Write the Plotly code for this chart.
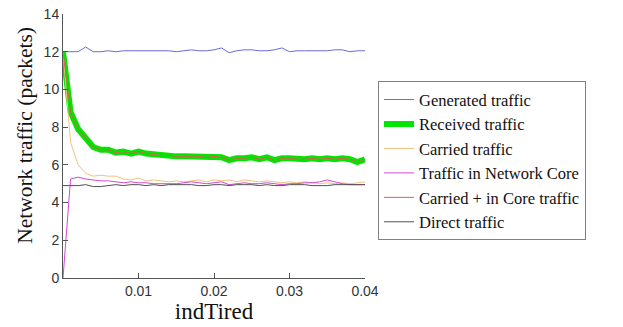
import plotly.graph_objects as go

ind_tired = [round(i * 0.001, 3) for i in range(41)]

generated = [12.0, 12.0, 12.0, 12.25, 12.0, 12.0, 12.05, 12.0, 12.05, 12.05,
             12.05, 12.05, 12.05, 12.05, 12.05, 12.0, 12.05, 12.1, 12.05, 12.05,
             12.1, 12.2, 11.95, 12.05, 12.1, 12.1, 12.05, 12.05, 12.1, 12.2,
             12.0, 12.05, 12.05, 12.05, 12.05, 12.05, 12.1, 12.1, 12.0, 12.05, 12.05]

received = [12.0, 8.8, 7.9, 7.4, 6.95, 6.8, 6.8, 6.65, 6.7, 6.6,
            6.7, 6.6, 6.55, 6.5, 6.5, 6.45, 6.45, 6.45, 6.45, 6.4,
            6.45, 6.4, 6.25, 6.35, 6.35, 6.4, 6.3, 6.4, 6.25, 6.35,
            6.35, 6.3, 6.3, 6.35, 6.3, 6.35, 6.3, 6.35, 6.3, 6.15, 6.3]

carried = [12.0, 7.2, 6.0, 5.55, 5.4, 5.45, 5.4, 5.4, 5.25, 5.2,
           5.3, 5.15, 5.2, 5.15, 5.1, 5.15, 5.1, 5.15, 5.2, 5.1,
           5.2, 5.15, 5.2, 5.1, 5.2, 5.15, 5.1, 5.15, 5.1, 5.05,
           5.1, 5.05, 5.1, 5.05, 5.0, 5.05, 5.0, 5.05, 5.0, 5.05, 5.1]

core = [0.0, 5.25, 5.35, 5.25, 5.2, 5.15, 5.15, 5.1, 5.05, 5.1,
        5.05, 5.05, 5.0, 5.0, 5.0, 5.0, 5.05, 5.1, 5.05, 5.0,
        5.05, 5.1, 4.95, 5.0, 5.05, 5.0, 5.0, 5.05, 5.0, 4.95,
        5.0, 5.0, 5.05, 5.05, 5.1, 5.2, 5.1, 5.0, 4.95, 4.95, 4.95]

carried_core = list(received)

direct = [4.9, 4.9, 4.9, 4.95, 4.85, 4.85, 4.9, 4.95, 4.9, 4.95,
          4.95, 4.9, 4.95, 4.9, 4.95, 4.95, 4.95, 4.95, 4.9, 4.9,
          4.95, 4.95, 4.9, 4.95, 4.95, 4.95, 4.9, 4.95, 4.9, 4.9,
          4.95, 4.95, 4.95, 4.9, 4.9, 4.9, 4.95, 4.95, 4.95, 4.95, 4.95]

series = [
    ("Generated traffic", generated, "#6b6bd6", 1),
    ("Received traffic", received, "#00e600", 6),
    ("Carried traffic", carried, "#f2c27e", 1),
    ("Traffic in Network Core", core, "#d447d4", 1),
    ("Carried + in Core traffic", carried_core, "#d9604e", 1),
    ("Direct traffic", direct, "#505050", 1),
]

fig = go.Figure()
for name, vals, color, width in series:
    fig.add_trace(go.Scatter(x=ind_tired, y=vals, mode="lines", name=name,
                             line=dict(color=color, width=width)))

fig.update_layout(
    width=623, height=327,
    margin=dict(l=63, r=258, t=14, b=49, autoexpand=False),
    paper_bgcolor="white", plot_bgcolor="white",
    showlegend=True,
    legend=dict(x=1.043, y=0.745, xanchor="left", yanchor="top",
                bordercolor="#808080", borderwidth=1, bgcolor="white",
                font=dict(family="Liberation Serif", size=16.5, color="#111"),
                tracegroupgap=0),
    xaxis=dict(range=[0, 0.04], tickvals=[0.01, 0.02, 0.03, 0.04],
               ticktext=["0.01", "0.02", "0.03", "0.04"],
               ticks="inside", ticklen=5, tickcolor="#555",
               showline=True, linecolor="#555", linewidth=1,
               showgrid=False, zeroline=False,
               tickfont=dict(family="Liberation Sans", size=14, color="#333"),
               title=dict(text="indTired", standoff=4,
                          font=dict(family="Liberation Serif", size=23, color="#111"))),
    yaxis=dict(range=[0, 14], tickvals=[0, 2, 4, 6, 8, 10, 12, 14],
               ticks="inside", ticklen=5, tickcolor="#555",
               showline=True, linecolor="#555", linewidth=1,
               showgrid=False, zeroline=False, ticklabeloverflow="allow",
               tickfont=dict(family="Liberation Sans", size=14, color="#333")),
    annotations=[dict(text="Network traffic (packets)", textangle=-90,
                      xref="paper", yref="paper", x=-0.126, y=0.542,
                      xanchor="center", yanchor="middle", showarrow=False,
                      font=dict(family="Liberation Serif", size=21.5, color="#111"))],
)

fig.write_html("out.html", config={"displayModeBar": False},
               post_script="document.body.style.margin='0';document.body.style.padding='0';")
